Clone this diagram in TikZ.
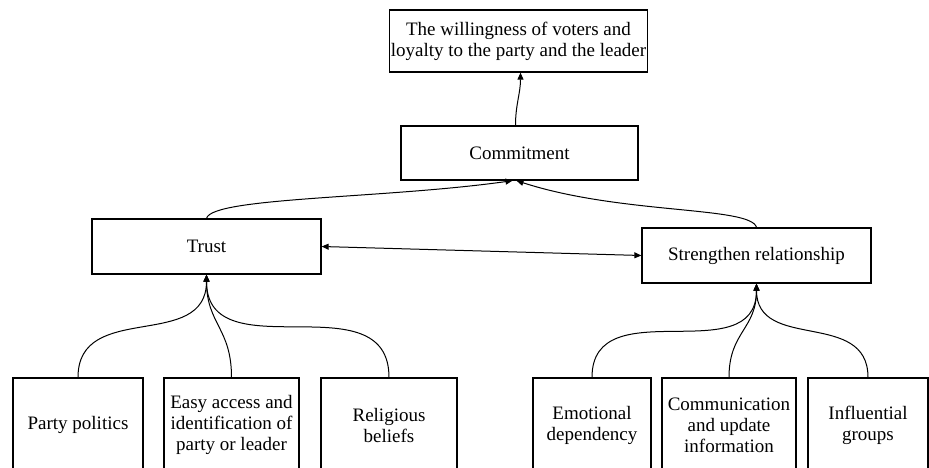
\documentclass[tikz,border=0pt]{standalone}
\usepackage{fontspec}
\setmainfont{Liberation Serif}
\usetikzlibrary{arrows.meta}

\begin{document}
\begin{tikzpicture}[x=1pt, y=-1pt, every node/.style={font=\rmfamily\fontsize{19}{21}\selectfont}]
  \tikzstyle{box}=[draw, line width=1.3pt, inner sep=0pt, align=center]
  \tikzstyle{edge}=[-{Triangle[length=7pt,width=6pt]}, line width=1pt]
  \useasboundingbox (0,0) rectangle (929,468);
  \node[box, minimum width=258pt, minimum height=62pt] (will) at (518.5, 41) {The willingness of voters and\\loyalty to the party and the leader};
  \node[box, minimum width=237pt, minimum height=54pt] (commit) at (519.5, 153) {Commitment};
  \node[box, minimum width=229pt, minimum height=55pt] (trust) at (206.5, 246.5) {Trust};
  \node[box, minimum width=229pt, minimum height=55pt] (relat) at (756.5, 255.5) {Strengthen relationship};
  % bottom row
  \node[box, minimum width=130pt, minimum height=94pt] (party) at (78, 425) {Party politics};
  \node[box, minimum width=135pt, minimum height=94pt] (easy) at (231.5, 425) {Easy access and\\identification of\\party or leader};
  \node[box, minimum width=136pt, minimum height=94pt] (relig) at (389, 425) {Religious\\beliefs};
  \node[box, minimum width=118pt, minimum height=94pt] (emot) at (592, 425) {Emotional\\dependency};
  \node[box, minimum width=134pt, minimum height=94pt] (comm) at (729, 425) {Communication\\and update\\information};
  \node[box, minimum width=120pt, minimum height=94pt] (infl) at (868, 425) {Influential\\groups};
  % connectors
  \draw[edge] ([xshift=-4pt]commit.north) to[out=90, in=-90] ([xshift=2pt]will.south);
  \draw[edge] (trust.north) to[out=75, in=188, out distance=22pt, in distance=130pt] ([xshift=-7pt]commit.south);
  \draw[edge] (relat.north) to[out=105, in=-18, out distance=22pt, in distance=110pt] ([xshift=-3pt]commit.south);
  \draw[{Triangle[length=7pt,width=6pt]}-{Triangle[length=7pt,width=6pt]}, line width=1pt] (trust.east) -- (relat.west);
  \foreach \c in {party, easy, relig} {
    \draw[edge] (\c.north) to[out=90, in=-90, looseness=1.2] (trust.south);
  }
  \foreach \c in {emot, comm, infl} {
    \draw[edge] (\c.north) to[out=90, in=-90, looseness=1.2] (relat.south);
  }
\end{tikzpicture}
\end{document}
